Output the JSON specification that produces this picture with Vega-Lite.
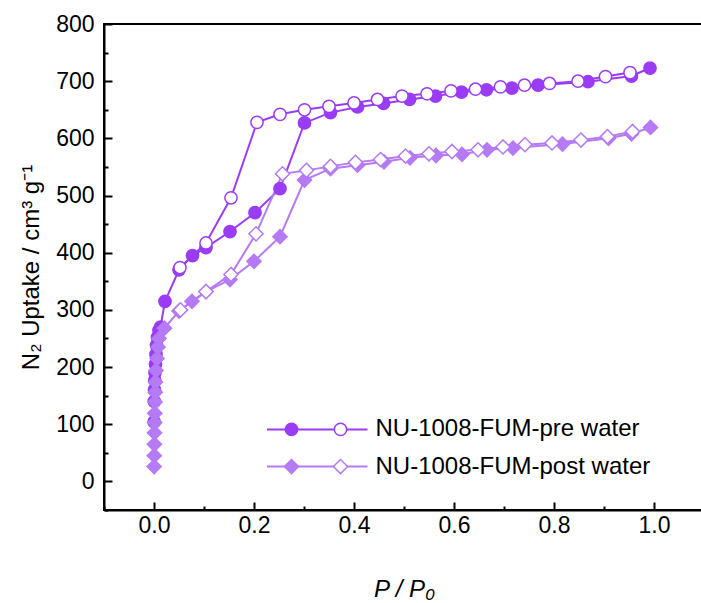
{
  "$schema": "https://vega.github.io/schema/vega-lite/v6.json",
  "width": 600,
  "height": 486,
  "autosize": {"type": "none"},
  "padding": {"left": 104, "top": 24, "right": 0, "bottom": 93},
  "background": "white",
  "config": {
    "view": {"stroke": "black", "strokeWidth": 2},
    "font": "Liberation Sans",
    "axis": {"grid": false, "domainColor": "black", "domainWidth": 2, "tickColor": "black", "tickWidth": 2, "labelColor": "black", "titleColor": "black", "labelFont": "Liberation Sans", "titleFont": "Liberation Sans", "titleFontWeight": "normal"}
  },
  "datasets": {
    "iso": [
      {"s": "pre", "b": "ads", "i": 1, "P": 0.0003, "v": 104},
      {"s": "pre", "b": "ads", "i": 2, "P": 0.0006, "v": 140},
      {"s": "pre", "b": "ads", "i": 3, "P": 0.001, "v": 160},
      {"s": "pre", "b": "ads", "i": 4, "P": 0.0015, "v": 177},
      {"s": "pre", "b": "ads", "i": 5, "P": 0.002, "v": 190},
      {"s": "pre", "b": "ads", "i": 6, "P": 0.003, "v": 205},
      {"s": "pre", "b": "ads", "i": 7, "P": 0.004, "v": 222},
      {"s": "pre", "b": "ads", "i": 8, "P": 0.005, "v": 238},
      {"s": "pre", "b": "ads", "i": 9, "P": 0.007, "v": 252},
      {"s": "pre", "b": "ads", "i": 10, "P": 0.01, "v": 264},
      {"s": "pre", "b": "ads", "i": 11, "P": 0.013, "v": 270},
      {"s": "pre", "b": "ads", "i": 12, "P": 0.022, "v": 315},
      {"s": "pre", "b": "ads", "i": 13, "P": 0.05, "v": 370},
      {"s": "pre", "b": "ads", "i": 14, "P": 0.077, "v": 395},
      {"s": "pre", "b": "ads", "i": 15, "P": 0.104, "v": 409},
      {"s": "pre", "b": "ads", "i": 16, "P": 0.152, "v": 437},
      {"s": "pre", "b": "ads", "i": 17, "P": 0.202, "v": 470},
      {"s": "pre", "b": "ads", "i": 18, "P": 0.252, "v": 512},
      {"s": "pre", "b": "ads", "i": 19, "P": 0.301, "v": 627},
      {"s": "pre", "b": "ads", "i": 20, "P": 0.353, "v": 645},
      {"s": "pre", "b": "ads", "i": 21, "P": 0.407, "v": 655},
      {"s": "pre", "b": "ads", "i": 22, "P": 0.459, "v": 661},
      {"s": "pre", "b": "ads", "i": 23, "P": 0.511, "v": 668},
      {"s": "pre", "b": "ads", "i": 24, "P": 0.563, "v": 674},
      {"s": "pre", "b": "ads", "i": 25, "P": 0.615, "v": 681},
      {"s": "pre", "b": "ads", "i": 26, "P": 0.665, "v": 685},
      {"s": "pre", "b": "ads", "i": 27, "P": 0.716, "v": 688},
      {"s": "pre", "b": "ads", "i": 28, "P": 0.768, "v": 693},
      {"s": "pre", "b": "ads", "i": 29, "P": 0.868, "v": 699},
      {"s": "pre", "b": "ads", "i": 30, "P": 0.955, "v": 709},
      {"s": "pre", "b": "ads", "i": 31, "P": 0.992, "v": 723},
      {"s": "pre", "b": "des", "i": 1, "P": 0.952, "v": 715},
      {"s": "pre", "b": "des", "i": 2, "P": 0.903, "v": 708},
      {"s": "pre", "b": "des", "i": 3, "P": 0.848, "v": 700},
      {"s": "pre", "b": "des", "i": 4, "P": 0.791, "v": 696},
      {"s": "pre", "b": "des", "i": 5, "P": 0.741, "v": 693},
      {"s": "pre", "b": "des", "i": 6, "P": 0.693, "v": 690},
      {"s": "pre", "b": "des", "i": 7, "P": 0.643, "v": 686},
      {"s": "pre", "b": "des", "i": 8, "P": 0.594, "v": 683},
      {"s": "pre", "b": "des", "i": 9, "P": 0.546, "v": 678},
      {"s": "pre", "b": "des", "i": 10, "P": 0.496, "v": 674},
      {"s": "pre", "b": "des", "i": 11, "P": 0.447, "v": 668},
      {"s": "pre", "b": "des", "i": 12, "P": 0.4, "v": 662},
      {"s": "pre", "b": "des", "i": 13, "P": 0.35, "v": 656},
      {"s": "pre", "b": "des", "i": 14, "P": 0.301, "v": 650},
      {"s": "pre", "b": "des", "i": 15, "P": 0.252, "v": 642},
      {"s": "pre", "b": "des", "i": 16, "P": 0.206, "v": 628},
      {"s": "pre", "b": "des", "i": 17, "P": 0.154, "v": 496},
      {"s": "pre", "b": "des", "i": 18, "P": 0.104, "v": 417},
      {"s": "pre", "b": "des", "i": 19, "P": 0.052, "v": 374},
      {"s": "post", "b": "ads", "i": 1, "P": 0.0003, "v": 26},
      {"s": "post", "b": "ads", "i": 2, "P": 0.0005, "v": 45},
      {"s": "post", "b": "ads", "i": 3, "P": 0.0008, "v": 65},
      {"s": "post", "b": "ads", "i": 4, "P": 0.001, "v": 85},
      {"s": "post", "b": "ads", "i": 5, "P": 0.0013, "v": 103},
      {"s": "post", "b": "ads", "i": 6, "P": 0.0016, "v": 119},
      {"s": "post", "b": "ads", "i": 7, "P": 0.002, "v": 139},
      {"s": "post", "b": "ads", "i": 8, "P": 0.0025, "v": 156},
      {"s": "post", "b": "ads", "i": 9, "P": 0.003, "v": 174},
      {"s": "post", "b": "ads", "i": 10, "P": 0.004, "v": 194},
      {"s": "post", "b": "ads", "i": 11, "P": 0.006, "v": 215},
      {"s": "post", "b": "ads", "i": 12, "P": 0.008, "v": 235},
      {"s": "post", "b": "ads", "i": 13, "P": 0.01, "v": 250},
      {"s": "post", "b": "ads", "i": 14, "P": 0.021, "v": 268},
      {"s": "post", "b": "ads", "i": 15, "P": 0.05, "v": 298},
      {"s": "post", "b": "ads", "i": 16, "P": 0.076, "v": 315},
      {"s": "post", "b": "ads", "i": 17, "P": 0.104, "v": 332},
      {"s": "post", "b": "ads", "i": 18, "P": 0.152, "v": 353},
      {"s": "post", "b": "ads", "i": 19, "P": 0.2, "v": 385},
      {"s": "post", "b": "ads", "i": 20, "P": 0.252, "v": 428},
      {"s": "post", "b": "ads", "i": 21, "P": 0.301, "v": 527},
      {"s": "post", "b": "ads", "i": 22, "P": 0.353, "v": 547},
      {"s": "post", "b": "ads", "i": 23, "P": 0.407, "v": 553},
      {"s": "post", "b": "ads", "i": 24, "P": 0.46, "v": 559},
      {"s": "post", "b": "ads", "i": 25, "P": 0.512, "v": 566},
      {"s": "post", "b": "ads", "i": 26, "P": 0.564, "v": 570},
      {"s": "post", "b": "ads", "i": 27, "P": 0.616, "v": 572},
      {"s": "post", "b": "ads", "i": 28, "P": 0.666, "v": 580},
      {"s": "post", "b": "ads", "i": 29, "P": 0.718, "v": 583},
      {"s": "post", "b": "ads", "i": 30, "P": 0.817, "v": 590},
      {"s": "post", "b": "ads", "i": 31, "P": 0.909, "v": 600},
      {"s": "post", "b": "ads", "i": 32, "P": 0.955, "v": 608},
      {"s": "post", "b": "ads", "i": 33, "P": 0.993, "v": 619},
      {"s": "post", "b": "des", "i": 1, "P": 0.957, "v": 612},
      {"s": "post", "b": "des", "i": 2, "P": 0.907, "v": 603},
      {"s": "post", "b": "des", "i": 3, "P": 0.854, "v": 597},
      {"s": "post", "b": "des", "i": 4, "P": 0.796, "v": 592},
      {"s": "post", "b": "des", "i": 5, "P": 0.742, "v": 589},
      {"s": "post", "b": "des", "i": 6, "P": 0.698, "v": 585},
      {"s": "post", "b": "des", "i": 7, "P": 0.648, "v": 580},
      {"s": "post", "b": "des", "i": 8, "P": 0.596, "v": 577},
      {"s": "post", "b": "des", "i": 9, "P": 0.55, "v": 573},
      {"s": "post", "b": "des", "i": 10, "P": 0.503, "v": 569},
      {"s": "post", "b": "des", "i": 11, "P": 0.453, "v": 563},
      {"s": "post", "b": "des", "i": 12, "P": 0.403, "v": 558},
      {"s": "post", "b": "des", "i": 13, "P": 0.353, "v": 551},
      {"s": "post", "b": "des", "i": 14, "P": 0.305, "v": 544},
      {"s": "post", "b": "des", "i": 15, "P": 0.257, "v": 538},
      {"s": "post", "b": "des", "i": 16, "P": 0.204, "v": 433},
      {"s": "post", "b": "des", "i": 17, "P": 0.154, "v": 362},
      {"s": "post", "b": "des", "i": 18, "P": 0.104, "v": 332},
      {"s": "post", "b": "des", "i": 19, "P": 0.053, "v": 300}
    ],
    "legLines": [
      {"s": "pre", "P1": 0.226, "P2": 0.427, "v": 91},
      {"s": "post", "P1": 0.226, "P2": 0.427, "v": 26}
    ],
    "legMarks": [
      {"s": "pre", "b": "ads", "P": 0.275, "v": 91},
      {"s": "pre", "b": "des", "P": 0.373, "v": 91},
      {"s": "post", "b": "ads", "P": 0.275, "v": 26},
      {"s": "post", "b": "des", "P": 0.373, "v": 26}
    ],
    "legText": [
      {"label": "NU-1008-FUM-pre water", "P": 0.443, "v": 91},
      {"label": "NU-1008-FUM-post water", "P": 0.443, "v": 26}
    ]
  },
  "resolve": {"axis": {"x": "independent", "y": "independent"}},
  "layer": [
    {
      "data": {"name": "iso"},
      "mark": {"type": "line", "strokeWidth": 2},
      "encoding": {
        "x": {"field": "P", "type": "quantitative", "scale": {"domain": [-0.1, 1.1], "nice": false, "zero": false},
          "axis": {"orient": "bottom", "values": [0, 0.2, 0.4, 0.6, 0.8, 1.0], "format": ".1f", "tickSize": -8, "labelFontSize": 23, "labelPadding": 12, "title": "P / P₀", "titleFontSize": 24, "titleFontStyle": "italic", "titlePadding": 40}},
        "y": {"field": "v", "type": "quantitative", "scale": {"domain": [-50, 800], "nice": false, "zero": false},
          "axis": {"orient": "left", "values": [0, 100, 200, 300, 400, 500, 600, 700, 800], "tickSize": -8, "labelFontSize": 23, "labelPadding": 18, "title": "N₂ Uptake / cm³ g⁻¹", "titleFontSize": 24, "titlePadding": 12}},
        "color": {"field": "s", "type": "nominal", "scale": {"domain": ["pre", "post"], "range": ["#9a3cf5", "#b57af5"]}, "legend": null},
        "detail": [{"field": "s"}, {"field": "b"}],
        "order": {"field": "i", "type": "quantitative"}
      }
    },
    {
      "data": {"name": "iso"},
      "mark": {"type": "point", "strokeWidth": 1.5, "opacity": 1, "fillOpacity": 1},
      "encoding": {
        "x": {"field": "P", "type": "quantitative",
          "axis": {"orient": "bottom", "values": [-0.1, 0.1, 0.3, 0.5, 0.7, 0.9], "tickSize": -4, "labels": false, "domain": false, "title": null}},
        "y": {"field": "v", "type": "quantitative",
          "axis": {"orient": "left", "values": [-50, 50, 150, 250, 350, 450, 550, 650, 750], "tickSize": -4, "labels": false, "domain": false, "title": null}},
        "shape": {"field": "s", "type": "nominal", "scale": {"domain": ["pre", "post"], "range": ["circle", "diamond"]}, "legend": null},
        "size": {"field": "s", "type": "nominal", "scale": {"domain": ["pre", "post"], "range": [150, 200]}, "legend": null},
        "stroke": {"field": "s", "type": "nominal", "scale": {"domain": ["pre", "post"], "range": ["#9a3cf5", "#b57af5"]}, "legend": null},
        "fill": {"condition": {"test": "datum.b === 'des'", "value": "white"}, "field": "s", "type": "nominal", "scale": {"domain": ["pre", "post"], "range": ["#9a3cf5", "#b57af5"]}, "legend": null}
      }
    },
    {
      "data": {"name": "legLines"},
      "mark": {"type": "rule", "strokeWidth": 2},
      "encoding": {
        "x": {"field": "P1", "type": "quantitative", "axis": null},
        "x2": {"field": "P2"},
        "y": {"field": "v", "type": "quantitative", "axis": null},
        "color": {"field": "s", "type": "nominal", "legend": null}
      }
    },
    {
      "data": {"name": "legMarks"},
      "mark": {"type": "point", "strokeWidth": 1.5, "opacity": 1, "fillOpacity": 1},
      "encoding": {
        "x": {"field": "P", "type": "quantitative", "axis": null},
        "y": {"field": "v", "type": "quantitative", "axis": null},
        "shape": {"field": "s", "type": "nominal", "legend": null},
        "size": {"field": "s", "type": "nominal", "scale": {"domain": ["pre", "post"], "range": [110, 150]}, "legend": null},
        "stroke": {"field": "s", "type": "nominal", "legend": null},
        "fill": {"condition": {"test": "datum.b === 'des'", "value": "white"}, "field": "s", "type": "nominal", "legend": null}
      }
    },
    {
      "data": {"name": "legText"},
      "mark": {"type": "text", "align": "left", "baseline": "middle", "fontSize": 24, "font": "Liberation Sans", "color": "black"},
      "encoding": {
        "x": {"field": "P", "type": "quantitative", "axis": null},
        "y": {"field": "v", "type": "quantitative", "axis": null},
        "text": {"field": "label"}
      }
    }
  ]
}
